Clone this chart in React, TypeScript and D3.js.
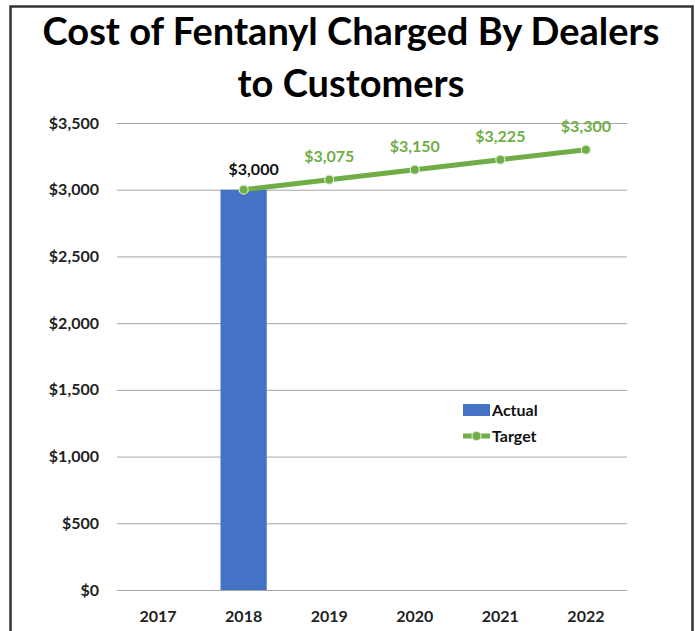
import React, { useEffect, useRef } from "react";
import * as d3 from "d3";

const years = ["2017", "2018", "2019", "2020", "2021", "2022"];
const actual = [{ year: "2018", value: 3000 }];
const target = [
  { year: "2018", value: 3000 },
  { year: "2019", value: 3075 },
  { year: "2020", value: 3150 },
  { year: "2021", value: 3225 },
  { year: "2022", value: 3300 },
];
const yTicks = [0, 500, 1000, 1500, 2000, 2500, 3000, 3500];
const titleLines = ["Cost of Fentanyl Charged By Dealers", "to Customers"];

const FONT = "Lato, 'Open Sans', sans-serif";
const BLUE = "#4472c4";
const GREEN = "#70ad47";

const App = () => {
  const ref = useRef<SVGSVGElement>(null);

  useEffect(() => {
    const svg = d3.select(ref.current);
    svg.selectAll("*").remove();

    const width = 695;
    const height = 631;
    const plot = { left: 117, right: 627, top: 123, bottom: 590 };

    svg.attr("width", width).attr("height", height);

    // white background + frame
    svg.append("rect").attr("width", width).attr("height", height).attr("fill", "#fff");
    svg
      .append("rect")
      .attr("x", 10.5)
      .attr("y", 6.5)
      .attr("width", 682)
      .attr("height", 660)
      .attr("fill", "none")
      .attr("stroke", "#333")
      .attr("stroke-width", 2.5);

    // title
    svg
      .append("g")
      .selectAll("text")
      .data(titleLines)
      .join("text")
      .attr("x", 351)
      .attr("y", (d, i) => 45 + i * 52)
      .attr("text-anchor", "middle")
      .style("font-family", FONT)
      .style("font-weight", "bold")
      .style("font-size", "38px")
      .attr("fill", "#000")
      .text((d) => d);

    const x = d3.scaleBand().domain(years).range([plot.left, plot.right]).paddingInner(0.46).paddingOuter(0.21);
    const xc = (y: string) => (x(y) as number) + x.bandwidth() / 2;
    const y = d3.scaleLinear().domain([0, 3500]).range([plot.bottom, plot.top]);

    // gridlines
    svg
      .append("g")
      .call(
        d3.axisLeft(y).tickValues(yTicks).tickSize(-(plot.right - plot.left)).tickFormat(() => "")
      )
      .attr("transform", `translate(${plot.left},0)`)
      .call((g) => g.select(".domain").remove())
      .selectAll("line")
      .attr("stroke", "#a6a6a6")
      .attr("stroke-width", 1);

    // y labels
    svg
      .append("g")
      .selectAll("text")
      .data(yTicks)
      .join("text")
      .attr("x", 99)
      .attr("y", (d) => y(d) + 5.5)
      .attr("text-anchor", "end")
      .style("font-family", FONT)
      .style("font-weight", "bold")
      .style("font-size", "16px")
      .attr("fill", "#222")
      .text((d) => d3.format("$,")(d));

    // x labels
    svg
      .append("g")
      .selectAll("text")
      .data(years)
      .join("text")
      .attr("x", (d) => xc(d))
      .attr("y", 622)
      .attr("text-anchor", "middle")
      .style("font-family", FONT)
      .style("font-weight", "bold")
      .style("font-size", "16px")
      .attr("fill", "#222")
      .text((d) => d);

    // bars
    svg
      .append("g")
      .selectAll("rect")
      .data(actual)
      .join("rect")
      .attr("x", (d) => x(d.year) as number)
      .attr("y", (d) => y(d.value))
      .attr("width", x.bandwidth())
      .attr("height", (d) => y(0) - y(d.value))
      .attr("fill", BLUE);

    // target line
    const line = d3
      .line<{ year: string; value: number }>()
      .x((d) => xc(d.year))
      .y((d) => y(d.value));

    svg
      .append("path")
      .datum(target)
      .attr("fill", "none")
      .attr("stroke", GREEN)
      .attr("stroke-width", 5)
      .attr("d", line);

    svg
      .append("g")
      .selectAll("circle")
      .data(target)
      .join("circle")
      .attr("cx", (d) => xc(d.year))
      .attr("cy", (d) => y(d.value))
      .attr("r", 4.5)
      .attr("fill", GREEN)
      .attr("stroke", "#d8ecc8")
      .attr("stroke-width", 1.2);

    // data labels
    svg
      .append("g")
      .selectAll("text")
      .data(target)
      .join("text")
      .attr("x", (d, i) => xc(d.year) + (i === 0 ? 10 : 0))
      .attr("y", (d, i) => y(d.value) - (i === 0 ? 15 : 18))
      .attr("text-anchor", "middle")
      .style("font-family", FONT)
      .style("font-weight", "bold")
      .style("font-size", "16px")
      .attr("fill", (d, i) => (i === 0 ? "#111" : GREEN))
      .text((d) => d3.format("$,")(d.value));

    // legend
    const lg = svg.append("g").attr("transform", "translate(463,404)");
    lg.append("rect").attr("x", 0).attr("y", 0).attr("width", 27).attr("height", 12).attr("fill", BLUE);
    lg.append("text")
      .attr("x", 29)
      .attr("y", 12)
      .style("font-family", FONT)
      .style("font-weight", "bold")
      .style("font-size", "16px")
      .attr("fill", "#111")
      .text("Actual");
    lg.append("line")
      .attr("x1", 0)
      .attr("x2", 27)
      .attr("y1", 32)
      .attr("y2", 32)
      .attr("stroke", GREEN)
      .attr("stroke-width", 5);
    lg.append("circle")
      .attr("cx", 13.5)
      .attr("cy", 32)
      .attr("r", 4.5)
      .attr("fill", GREEN)
      .attr("stroke", "#d8ecc8")
      .attr("stroke-width", 1.2);
    lg.append("text")
      .attr("x", 29)
      .attr("y", 38)
      .style("font-family", FONT)
      .style("font-weight", "bold")
      .style("font-size", "16px")
      .attr("fill", "#111")
      .text("Target");
  }, []);

  return (
    <svg
      ref={ref}
      style={{ position: "absolute", left: 0, top: 0, display: "block" }}
    />
  );
};

export default App;
